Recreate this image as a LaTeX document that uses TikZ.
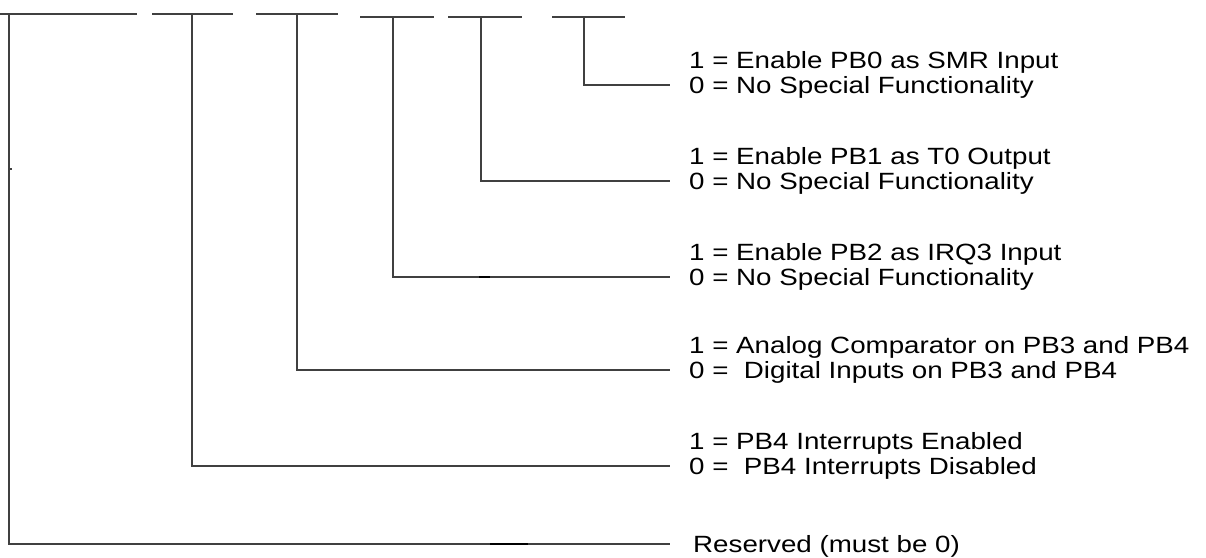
\documentclass[tikz,border=0pt]{standalone}
\usepackage{fontspec}
\setmainfont{Liberation Sans}
\definecolor{linegray}{HTML}{404040}
\newcommand\lbltext[1]{\scalebox{1.18}[1]{#1}}
\begin{document}
\begin{tikzpicture}[x=1pt,y=-1pt,
  bar/.style={line width=2pt, draw=linegray},
  wire/.style={line width=1.3pt, draw=linegray},
  blot/.style={line width=2.6pt, draw=black},
  lbl/.style={anchor=base west, inner sep=0pt, font=\fontsize{23.5}{25}\selectfont}]
\useasboundingbox (0,0) rectangle (1206,557);
% top bars
\coordinate (s5l) at (0,13.5);   \coordinate (s5r) at (137,13.5);
\coordinate (s4l) at (152,13.5); \coordinate (s4r) at (233,13.5);
\coordinate (s3l) at (256,13.5); \coordinate (s3r) at (338,13.5);
\coordinate (s2l) at (360,17);   \coordinate (s2r) at (434,17);
\coordinate (s1l) at (448,17);   \coordinate (s1r) at (522,17);
\coordinate (s0l) at (552,17);   \coordinate (s0r) at (625,17);
\foreach \i in {0,...,5} {\draw[bar] (s\i l) -- (s\i r);}
% taps
\coordinate (t0) at (584,17);
\coordinate (t1) at (481,17);
\coordinate (t2) at (393,17);
\coordinate (t3) at (297,13.5);
\coordinate (t4) at (192,13.5);
\coordinate (t5) at (9,13.5);
% line ends
\coordinate (e0) at (670,85);
\coordinate (e1) at (670,181);
\coordinate (e2) at (670,277);
\coordinate (e3) at (670,370);
\coordinate (e4) at (670,466);
\coordinate (e5) at (670,544);
\foreach \i in {0,...,5} {\draw[wire] (t\i) |- (e\i);}
% small blots
\draw[blot] (490,544) -- (528,544);
\draw[blot] (479,277) -- (490,277);
\draw[wire] (9,169) -- (12,169);
% labels
\node[lbl] (r0a) at (689,68.5)  {\lbltext{1 = Enable PB0 as SMR Input}};
\node[lbl] (r0b) at (689,93)    {\lbltext{0 = No Special Functionality}};
\node[lbl] (r1a) at (689,164.5) {\lbltext{1 = Enable PB1 as T0 Output}};
\node[lbl] (r1b) at (689,189)   {\lbltext{0 = No Special Functionality}};
\node[lbl] (r2a) at (689,260.5) {\lbltext{1 = Enable PB2 as IRQ3 Input}};
\node[lbl] (r2b) at (689,285)   {\lbltext{0 = No Special Functionality}};
\node[lbl] (r3a) at (689,353.5) {\lbltext{1 = Analog Comparator on PB3 and PB4}};
\node[lbl] (r3b) at (689,378)   {\lbltext{0 = \ Digital Inputs on PB3 and PB4}};
\node[lbl] (r4a) at (689,449.5) {\lbltext{1 = PB4 Interrupts Enabled}};
\node[lbl] (r4b) at (689,474)   {\lbltext{0 = \ PB4 Interrupts Disabled}};
\node[lbl] (r5)  at (693,552)   {\lbltext{Reserved (must be 0)}};
\end{tikzpicture}
\end{document}
